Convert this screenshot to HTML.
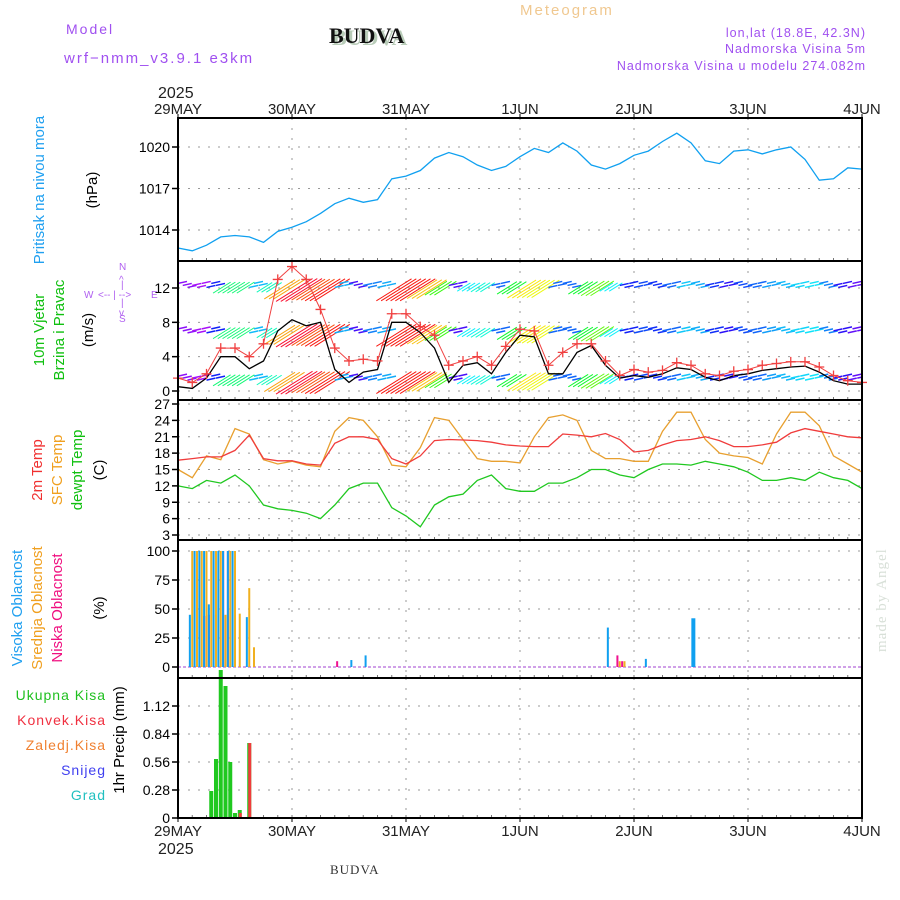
<!DOCTYPE html>
<html><head><meta charset="utf-8">
<style>
html,body{margin:0;padding:0;background:#fff;}
svg{display:block;font-family:"Liberation Sans",sans-serif;}
</style></head>
<body>
<svg id="chart" width="900" height="900" viewBox="0 0 900 900" xmlns="http://www.w3.org/2000/svg">
<rect width="900" height="900" fill="#fff"/>
<text x="66" y="34" font-size="14" fill="#a050f0" letter-spacing="2">Model</text>
<text x="64" y="63" font-size="15" fill="#a050f0" letter-spacing="2">wrf−nmm_v3.9.1  e3km</text>
<text x="332" y="45" font-family="Liberation Serif,serif" font-weight="bold" font-size="22" fill="#b8ccb8">BUDVA</text>
<text x="329" y="43" font-family="Liberation Serif,serif" font-weight="bold" font-size="22" fill="#111">BUDVA</text>
<text x="520" y="15" font-size="15" fill="#f0c890" letter-spacing="2">Meteogram</text>
<text x="866" y="37" font-size="12.5" fill="#a050f0" text-anchor="end" letter-spacing="1">lon,lat (18.8E, 42.3N)</text>
<text x="866" y="53" font-size="12.5" fill="#a050f0" text-anchor="end" letter-spacing="1">Nadmorska Visina 5m</text>
<text x="866" y="70" font-size="12.5" fill="#a050f0" text-anchor="end" letter-spacing="1">Nadmorska Visina u modelu 274.082m</text>
<text x="158" y="98" font-size="16" fill="#222">2025</text>
<text x="158" y="854" font-size="16" fill="#222">2025</text>
<text x="330" y="874" font-family="Liberation Serif,serif" font-size="13" fill="#333" letter-spacing="1">BUDVA</text>
<text transform="translate(886,652) rotate(-90)" font-family="Liberation Serif,serif" font-size="15" fill="#d8e0d8" letter-spacing="1">made by Angel</text>

<text transform="translate(44,190) rotate(-90)" text-anchor="middle" font-size="15" fill="#20a0f0">Pritisak na nivou mora</text>
<text transform="translate(97,190) rotate(-90)" text-anchor="middle" font-size="15" fill="#000">(hPa)</text>
<text transform="translate(44,330) rotate(-90)" text-anchor="middle" font-size="15" fill="#10c010">10m Vjetar</text>
<text transform="translate(64,330) rotate(-90)" text-anchor="middle" font-size="15" fill="#10c010">Brzina i Pravac</text>
<text transform="translate(93,330) rotate(-90)" text-anchor="middle" font-size="15" fill="#000">(m/s)</text>
<g fill="#b060f0" font-size="10">
<text x="119" y="270">N</text><text x="84" y="298">W</text><text x="151" y="298">E</text><text x="119" y="322">S</text>
<text x="98" y="298" font-size="10">&lt;-- | --&gt;</text>
<text x="119" y="283">^</text><text x="121" y="288">|</text><text x="121" y="306">|</text><text x="119" y="316">v</text>
</g>
<text transform="translate(42,470) rotate(-90)" text-anchor="middle" font-size="15" fill="#f03030">2m Temp</text>
<text transform="translate(62,470) rotate(-90)" text-anchor="middle" font-size="15" fill="#f0a020">SFC Temp</text>
<text transform="translate(82,470) rotate(-90)" text-anchor="middle" font-size="15" fill="#10c010">dewpt Temp</text>
<text transform="translate(104,470) rotate(-90)" text-anchor="middle" font-size="15" fill="#000">(C)</text>
<text transform="translate(22,608) rotate(-90)" text-anchor="middle" font-size="15" fill="#20a0f0">Visoka Oblacnost</text>
<text transform="translate(42,608) rotate(-90)" text-anchor="middle" font-size="15" fill="#f0a020">Srednja Oblacnost</text>
<text transform="translate(62,608) rotate(-90)" text-anchor="middle" font-size="15" fill="#f01080">Niska Oblacnost</text>
<text transform="translate(104,608) rotate(-90)" text-anchor="middle" font-size="15" fill="#000">(%)</text>
<g font-size="14" text-anchor="end" letter-spacing="1">
<text x="106" y="700" fill="#20c020">Ukupna Kisa</text>
<text x="106" y="725" fill="#f03040">Konvek.Kisa</text>
<text x="106" y="750" fill="#f08030">Zaledj.Kisa</text>
<text x="106" y="775" fill="#4040f0">Snijeg</text>
<text x="106" y="800" fill="#20c0c0">Grad</text>
</g>
<text transform="translate(124,740) rotate(-90)" text-anchor="middle" font-size="15" fill="#000">1hr Precip (mm)</text>
<g id="plots"></g>
</svg>
<script>
const dayLabels = ["29MAY","30MAY","31MAY","1JUN","2JUN","3JUN","4JUN"];
const pressure = [1012.7,1012.5,1012.9,1013.5,1013.6,1013.5,1013.1,1013.9,1014.2,1014.6,1015.2,1015.9,1016.3,1016.0,1016.2,1017.7,1017.9,1018.3,1019.2,1019.6,1019.3,1018.7,1018.3,1018.6,1019.3,1019.9,1019.6,1020.3,1019.7,1018.7,1018.4,1018.8,1019.4,1019.7,1020.4,1021.0,1020.3,1019.0,1018.8,1019.7,1019.8,1019.5,1019.8,1020.0,1019.1,1017.6,1017.7,1018.5,1018.4];
const windSpeed = [0.5,0.3,1.5,4.0,4.0,2.6,3.5,7.0,8.3,7.6,8.0,2.5,1.0,2.2,2.5,8.0,8.0,6.8,5.0,1.0,3.0,3.3,2.0,4.5,6.5,6.3,2.0,2.0,4.5,5.3,3.0,1.5,1.8,1.6,2.0,2.7,2.5,1.6,1.2,1.8,2.0,2.4,2.6,2.8,2.9,2.2,1.2,0.8,0.8];
const windGust = [1.5,1.0,2.0,5.0,5.0,4.0,5.5,13,14.5,13,9.5,5.0,3.5,3.7,3.5,9.0,9.0,7.5,6.5,3.0,3.5,4.0,3.0,5.2,7.2,7.0,3.0,4.5,5.5,5.5,3.5,1.8,2.5,2.2,2.4,3.3,3.0,2.0,1.8,2.3,2.5,3.0,3.2,3.4,3.4,2.8,1.8,1.2,1.0];
const barbLevels = [12.3,7.0,1.5];
const temp2m = [16.7,17.0,17.3,17.3,18.5,21.3,17.0,16.6,16.6,16.0,15.8,19.8,21.0,21.0,20.5,17.0,16.0,17.5,20.3,20.5,20.4,20.3,20.0,19.5,19.3,19.2,19.2,21.5,21.3,21.0,21.6,20.5,18.2,18.5,19.5,20.3,20.5,21.0,20.3,19.2,19.2,19.5,20.0,21.7,22.5,22.0,21.5,21.0,20.8];
const tempSfc = [15,13.5,17.5,16.8,22.5,21.5,16.8,16,16.5,15.8,15.5,22,24.5,24,21,15.8,15.5,19,24.5,24,20.5,17,16.5,16.5,16.2,21,24.5,25,24,18.5,17,17,16.5,16.5,22,25.5,25.5,20.5,18,17.5,17.2,16,21.5,25.5,25.5,23,17.5,16,14.5];
const dewpt = [12.0,11.5,13.0,12.5,14.0,12.0,8.5,7.8,7.5,7.0,6.0,8.5,11.5,12.5,12.5,8.0,6.5,4.5,8.5,10.0,10.5,13.0,14.0,11.5,11.0,11.0,12.5,12.5,13.5,15.0,15.0,14.0,13.5,15.0,16.0,16.0,15.8,16.5,16.0,15.5,14.5,13.0,13.0,13.5,13.0,14.5,13.5,13.0,11.5];
const cloudHours = [3,4,5,6,7,8,9,10,11,12,13,15,16,33,37,40,91,92,93,94,99,109];
const highCloud = [45,100,100,100,54,100,100,100,100,100,0,43,0,0,6,10,34,0,0,0,7,42];
const midCloud  = [100,100,100,100,100,100,100,45,100,100,46,68,17,0,0,0,0,0,5,5,0,0];
const lowCloud  = [0,0,44,45,0,0,100,100,0,0,0,0,0,5,0,0,0,10,5,0,0,0];
const precipHours = [7,8,9,10,11,12,13,15];
const precipTotal = [0.27,0.59,1.48,1.32,0.56,0.05,0.08,0.75];
const precipConv  = [0,0,0,0,0,0,0.05,0.75];
const pTicks = [1014,1017,1020];
const wTicks = [0,4,8,12];
const tTicks = [3,6,9,12,15,18,21,24,27];
const cTicks = [0,25,50,75,100];
const rTicks = [0,0.28,0.56,0.84,1.12];

const NS="http://www.w3.org/2000/svg";
const g=document.getElementById('plots');
const X0=178,X1=862,HOURS=144;
const xh=h=>X0+(X1-X0)*h/HOURS;
const xi=i=>xh(i*3);
function el(tag,attrs,parent){const e=document.createElementNS(NS,tag);for(const k in attrs)e.setAttribute(k,attrs[k]);(parent||g).appendChild(e);return e;}
function scale(v0,v1,y0,y1){return v=>y0+(v-v0)*(y1-y0)/(v1-v0);}
const panels=[
 {name:'pressure',top:118,bot:261,y:scale(1014,1020,230,147),ticks:pTicks,fmt:v=>v},
 {name:'wind',top:261,bot:400,y:scale(0,12,391,288),ticks:wTicks,fmt:v=>v},
 {name:'temperature',top:400,bot:540,y:scale(3,27,535,404),ticks:tTicks,fmt:v=>v},
 {name:'cloud',top:540,bot:678,y:scale(0,100,667,551),ticks:cTicks,fmt:v=>v},
 {name:'precip',top:678,bot:818,y:scale(0,1.12,818,706),ticks:rTicks,fmt:v=>v===0?'0':v.toFixed(2)}
];
panels.forEach(p=>{
 const pg=el('g',{});
 
 
 for(let d=1;d<6;d++){const l=el('line',{x1:xh(d*24),x2:xh(d*24),y1:p.top,y2:p.bot,stroke:'#999','stroke-dasharray':'2,8'},pg);
  }
 p.ticks.forEach(t=>{const y=p.y(t);
  const gl=el('line',{x1:X0,x2:X1,y1:y,y2:y,stroke:'#999','stroke-dasharray':'2,8'},pg);
  
  el('line',{x1:X0-6,x2:X0,y1:y,y2:y,stroke:'#000','stroke-width':1.5},pg);
  const tx=el('text',{x:X0-8,y:y+5,'font-size':14,'text-anchor':'end',fill:'#000'},pg);
  tx.textContent=p.fmt(t);
  
 });
 for(let h=3;h<HOURS;h+=3){el('line',{x1:xh(h),x2:xh(h),y1:p.bot-3,y2:p.bot,stroke:'#777'},pg);}
});
dayLabels.forEach((lab,d)=>{
 [[114,'top'],[836,'bottom']].forEach(([y,w])=>{
  const t=el('text',{x:xh(d*24),y:y,'font-size':15,'text-anchor':'middle',fill:'#222'});
  t.textContent=lab;
  
 });
});
function line(arr,yf,color,name,w){
 const pts=arr.map((v,i)=>xi(i).toFixed(1)+','+yf(v).toFixed(1)).join(' ');
 const l=el('polyline',{points:pts,fill:'none',stroke:color,'stroke-width':w||1.3});
 return l;
}
const clip=el('clipPath',{id:'clipw'});
el('rect',{x:X0,y:262,width:X1-X0,height:138},clip);
line(pressure,panels[0].y,'#10a0f0','pressure-line');
function speedColor(s){const hue=Math.max(-30,290-s*36);return 'hsl('+(hue<0?hue+360:hue)+',95%,52%)';}
const wy=panels[1].y;
const barbs=el('g',{'clip-path':'url(#clipw)'});

barbLevels.forEach(lv=>{
 windSpeed.forEach((s,i)=>{
  const y0=wy(lv);
  const n=3;
  for(let k=0;k<n;k++){
   const x=xi(i)+k*14.25/n;
   let a;
   if(s<3){
    const wob=((i+k)%3-1)*2;
    a=el('line',{x1:x,y1:y0+wob,x2:x+9,y2:y0+wob-2,stroke:speedColor(s),'stroke-width':1.5},barbs);
   }else{
    const L=s*5.5;
    a=el('line',{x1:x-L*0.35,y1:y0+L*0.35,x2:x+L*0.45,y2:y0-L*0.15,stroke:speedColor(s),'stroke-width':1},barbs);
   }
   
  }
 });
});
line(windSpeed,wy,'#000','wind-speed-line');
line(windGust,wy,'#f04040','wind-gust-line',1);
const gm=el('g',{});

windGust.forEach((v,i)=>{const x=xi(i),y=wy(v);
 el('path',{d:`M${x-5},${y}H${x+5}M${x},${y-5}V${y+5}`,stroke:'#f04040','stroke-width':1.3},gm);});
const ty=panels[2].y;
line(tempSfc,ty,'#e8a030','sfc-temp-line');
line(temp2m,ty,'#f03c3c','temp-2m-line');
line(dewpt,ty,'#20c820','dewpt-line');
const cy=panels[3].y;
el('line',{x1:X0,x2:X1,y1:cy(0),y2:cy(0),stroke:'#c080e0','stroke-width':1.5,'stroke-dasharray':'3,2'});
cloudHours.forEach((h,i)=>{
 const x=xh(h);
 [[highCloud,'#10a0f0',-1.6,'high-cloud-bar'],[midCloud,'#f0b020',0,'mid-cloud-bar'],[lowCloud,'#f01090',1.6,'low-cloud-bar']].forEach(([arr,c,off,nm])=>{
  const v=arr[i];if(!v)return;
  const w=(h===109)?4:2;
  const r=el('rect',{x:x+off*1.5-w/2,y:cy(v),width:w,height:cy(0)-cy(v),fill:c});
  
 });
});
const ry=panels[4].y;
precipHours.forEach((h,i)=>{
 const x=xh(h);
 const r=el('rect',{x:x-2,y:ry(precipTotal[i]),width:4,height:ry(0)-ry(precipTotal[i]),fill:'#20c820'});
 
 if(precipConv[i]>0){
  const c=el('rect',{x:x-1,y:ry(precipConv[i]),width:3,height:ry(0)-ry(precipConv[i]),fill:'#f03c3c'});
  
 }
});
panels.forEach(p=>{
 const fr=el('rect',{x:X0,y:p.top,width:X1-X0,height:p.bot-p.top,fill:'none',stroke:'#000','stroke-width':2});
 
});
dayLabels.forEach((lab,d)=>{
 el('line',{x1:xh(d*24),x2:xh(d*24),y1:114,y2:118,stroke:'#000'});
 el('line',{x1:xh(d*24),x2:xh(d*24),y1:818,y2:822,stroke:'#000'});
});
</script>
</body></html>
